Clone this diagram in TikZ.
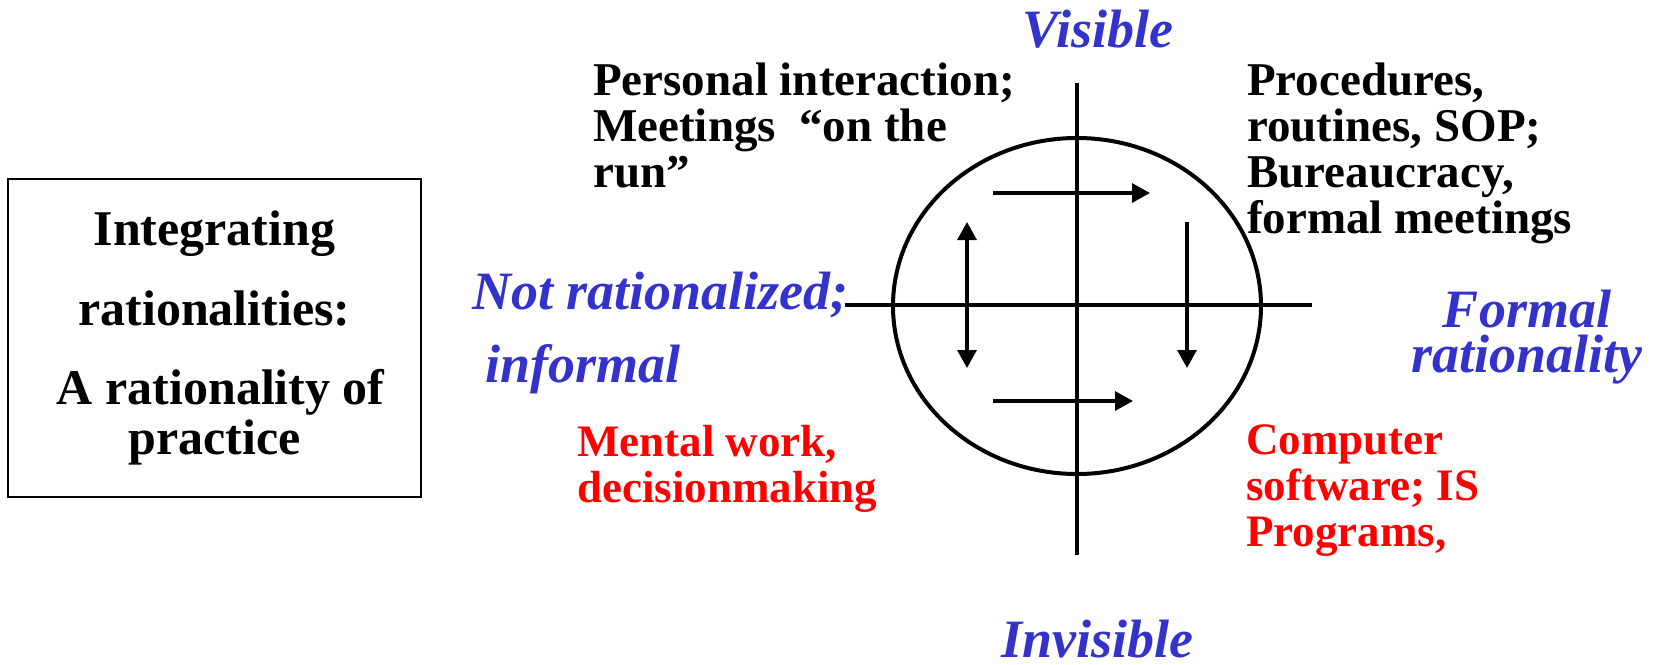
\documentclass[tikz,border=0pt]{standalone}
\usepackage{fontspec}
\setmainfont{Liberation Serif}
\usetikzlibrary{arrows.meta}
\definecolor{dimblue}{HTML}{3333CC}
\definecolor{dimred}{HTML}{FF0000}

\begin{document}
\begin{tikzpicture}[x=1pt, y=-1pt,
    quad/.style={anchor=base west, inner sep=0pt, align=left,
        font=\bfseries\fontsize{47}{46}\selectfont},
    redquad/.style={quad, text=dimred, font=\bfseries\fontsize{45}{46}\selectfont},
    axislabel/.style={inner sep=0pt, text=dimblue,
        font=\bfseries\itshape\fontsize{54}{45}\selectfont},
    flow/.style={line width=3.3pt, -{Triangle[length=18pt,width=19pt]}}]
    \useasboundingbox (0,0) rectangle (1657,664);

    % title box on the left
    \node[draw, line width=2.5pt, minimum width=413pt, minimum height=318pt,
          inner sep=0pt, align=center, font=\bfseries\fontsize{50}{50}\selectfont]
          (title) at (214.5,338) {Integrating\\[30pt] rationalities:\\[29pt] \ A rationality of\\ practice};

    % circle and the two axes
    \foreach \name/\x/\y in {top/1077/83, bottom/1077/555, left/845/305, right/1312/305}
        \coordinate (\name) at (\x,\y);
    \draw[line width=4pt] (1077,306) ellipse [x radius=184, y radius=168];
    \draw[line width=3.3pt] (top) -- (bottom);
    \draw[line width=3.3pt] (left) -- (right);

    % flows between the quadrants
    \foreach \name/\x/\y in {ta/993/193, tb/1150/193, ba/993/401, bb/1133/401,
                             la/967/222, lb/967/368, ra/1187/222, rb/1187/368}
        \coordinate (\name) at (\x,\y);
    \draw[flow] (ta) -- (tb);
    \draw[flow] (ba) -- (bb);
    \draw[flow] (ra) -- (rb);
    \draw[flow, {Triangle[length=18pt,width=19pt]}-{Triangle[length=18pt,width=19pt]}] (la) -- (lb);

    % axis labels (multi-line nodes sit on their last baseline)
    \node[axislabel, anchor=base] (visible) at (1098,47) {Visible};
    \node[axislabel, anchor=base] (invisible) at (1097,657) {Invisible};
    \node[axislabel, anchor=base west, align=left] (informal) at (472,382)
        {Not rationalized;\\[25pt]\hspace{13pt}informal};
    \node[axislabel, anchor=base, align=center] (formal) at (1527,372) {Formal\\rationality};

    % quadrant texts
    \node[quad] (personal) at (593,187) {Personal interaction;\\Meetings\ \ “on the\\run”};
    \node[quad] (procedures) at (1247,233) {Procedures,\\routines, SOP;\\Bureaucracy,\\formal meetings};
    \node[redquad] (mental) at (577,502) {Mental work,\\decisionmaking};
    \node[redquad] (software) at (1246,546) {Computer\\software; IS\\Programs,};
\end{tikzpicture}
\end{document}
